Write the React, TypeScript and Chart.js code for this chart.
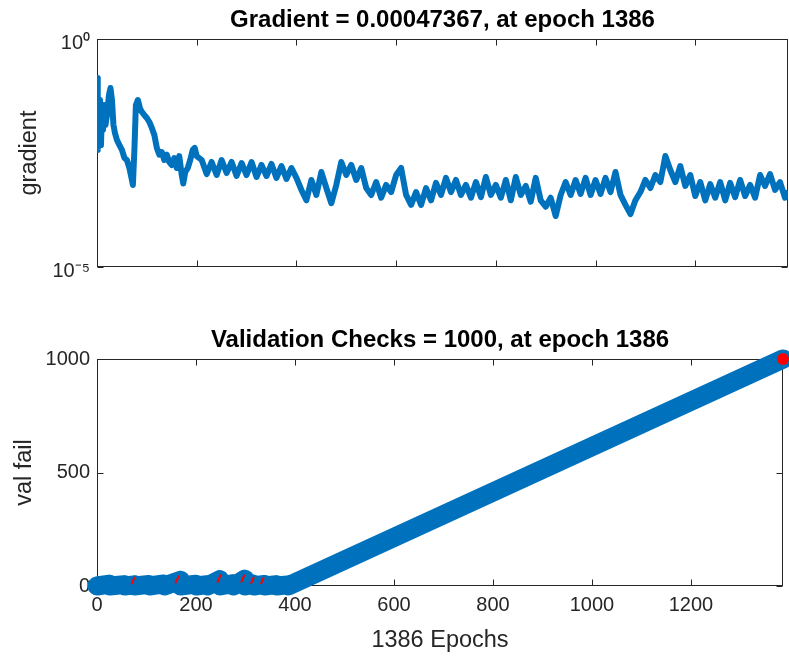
import { useEffect, useRef } from 'react';
import { Chart, registerables } from 'chart.js';

Chart.register(...registerables);

// ---------- data ----------
const xTicks = [0, 200, 400, 600, 800, 1000, 1200];
const gradTicks = [1e-5, 1];
const valTicks = [0, 500, 1000];

const gradTitle = 'Gradient = 0.00047367, at epoch 1386';
const valTitle = 'Validation Checks = 1000, at epoch 1386';
const xLabel = '1386 Epochs';

const gradEpochs = [
  0, 1, 2, 4, 6, 8, 10, 12, 14, 17, 20, 24, 27, 30, 33, 36, 40, 45, 50, 55,
  60, 65, 70, 72, 75, 78, 82, 86, 90, 95, 100, 105, 110, 115, 120, 125, 130, 135, 140, 145,
  150, 155, 160, 165, 170, 173, 177, 182, 187, 192, 196, 200,
  210, 220, 230, 240, 250, 260, 270, 280, 290, 300,
  310, 320, 330, 340, 350, 360, 370, 380, 390, 400,
  410, 420, 430, 440, 450, 460, 470, 480, 490, 500,
  510, 520, 530, 540, 550, 560, 570, 580, 590, 600,
  610, 620, 630, 640, 650, 660, 670, 680, 690, 700,
  710, 720, 730, 740, 750, 760, 770, 780, 790, 800,
  810, 820, 830, 840, 850, 860, 870, 880, 890, 900,
  910, 920, 930, 940, 950, 960, 970, 980, 990, 1000,
  1010, 1020, 1030, 1040, 1050, 1060, 1070, 1080, 1090, 1100,
  1110, 1120, 1130, 1140, 1150, 1160, 1170, 1180, 1190, 1200,
  1210, 1220, 1230, 1240, 1250, 1260, 1270, 1280, 1290, 1300,
  1310, 1320, 1330, 1340, 1350, 1360, 1370, 1380, 1386,
];
const gradValues = [
  0.14, 0.0037, 0.059, 0.0079, 0.046, 0.0047, 0.0307, 0.0101, 0.0357, 0.013, 0.0215, 0.059, 0.084, 0.046, 0.013, 0.0087, 0.0061, 0.0047, 0.0037, 0.00246,
  0.00222, 0.00148, 0.00081, 0.00063, 0.0037, 0.0357, 0.046, 0.0307, 0.0251, 0.0215, 0.0185, 0.0151, 0.0112, 0.0079, 0.0041, 0.0029, 0.0033, 0.00222, 0.0029, 0.002,
  0.00172, 0.00246, 0.00148, 0.0027, 0.00104, 0.00068, 0.00121, 0.00148, 0.00222, 0.0037, 0.0041, 0.0027,
  0.00222, 0.00109, 0.00201, 0.00104, 0.00222, 0.00115, 0.00201, 0.00099, 0.00191, 0.00104,
  0.00201, 0.00094, 0.00173, 0.00099, 0.00182, 0.0009, 0.00164, 0.00085, 0.00148, 0.0009,
  0.00049, 0.00029, 0.00081, 0.00038, 0.00121, 0.00054, 0.00025, 0.00063, 0.00201, 0.00104,
  0.00173, 0.00081, 0.00148, 0.00054, 0.00038, 0.00073, 0.00033, 0.00063, 0.00044, 0.00104,
  0.00148, 0.00038, 0.00023, 0.00044, 0.00023, 0.00054, 0.00029, 0.0007, 0.00038, 0.0009,
  0.00044, 0.00081, 0.00038, 0.00063, 0.00033, 0.00073, 0.00034, 0.00094, 0.00038, 0.00063,
  0.00033, 0.00081, 0.00029, 0.00094, 0.00038, 0.0006, 0.00027, 0.0009, 0.00029, 0.00021,
  0.00033, 0.000131, 0.00038, 0.00073, 0.00038, 0.00081, 0.0004, 0.0009, 0.00038, 0.00081,
  0.0004, 0.0009, 0.00044, 0.00121, 0.00038, 0.00023, 0.000145, 0.00029, 0.00044, 0.00081,
  0.00054, 0.00104, 0.00073, 0.00272, 0.00134, 0.00073, 0.00164, 0.0006, 0.00104, 0.00036,
  0.00073, 0.00029, 0.00066, 0.00033, 0.00073, 0.00029, 0.0007, 0.00034, 0.00081, 0.00036,
  0.00063, 0.00033, 0.00104, 0.0006, 0.00109, 0.00049, 0.00073, 0.00033, 0.00047367,
];

const valEpochs = [0, 25, 26, 55, 56, 75, 76, 105, 106, 135, 136, 168, 169, 200, 201, 222, 223, 248, 249, 275, 276, 298, 299, 316, 317, 338, 339, 362, 363, 385, 386, 1386];
const valFail = [0, 8, 0, 6, 0, 5, 0, 7, 0, 9, 0, 25, 0, 8, 0, 6, 0, 28, 0, 10, 0, 30, 0, 8, 0, 7, 0, 6, 0, 5, 0, 1000];

const redEpochs = [70, 76, 76, 158, 166, 166, 243, 250, 250, 291, 298, 298, 311, 317, 317, 331, 337];
const redFail = [8, 40, null, 12, 45, null, 15, 50, null, 15, 50, null, 10, 40, null, 8, 38];

const finalEpoch = [1386];
const finalFail = [1000];

// ---------- style ----------
const BLUE = '#0072BD';
const RED = '#FF0000';
const AX = '#262626';
const FONT = "'Liberation Sans', Arial, Helvetica, sans-serif";
const TICK_SIZE = 20;
const LABEL_SIZE = 23.5;

const axesPlugin = {
  id: 'matlabAxes',
  beforeDatasetsDraw(chart: any, _args: any, opts: any) {
    const { ctx, chartArea: a, scales } = chart;
    ctx.save();
    ctx.strokeStyle = AX;
    ctx.lineWidth = 1;
    const L = Math.round(a.left) + 0.5;
    const R = Math.round(a.right) - 0.5;
    const T = Math.round(a.top) + 0.5;
    const B = Math.round(a.bottom) - 0.5;
    ctx.strokeRect(L, T, R - L, B - T);
    const tl = 6;
    ctx.beginPath();
    scales.x.ticks.forEach((t: any) => {
      const px = Math.round(scales.x.getPixelForValue(t.value)) + 0.5;
      ctx.moveTo(px, T); ctx.lineTo(px, T + tl);
      ctx.moveTo(px, B); ctx.lineTo(px, B - tl);
    });
    scales.y.ticks.forEach((t: any) => {
      const py = Math.round(scales.y.getPixelForValue(t.value)) + 0.5;
      ctx.moveTo(L, py); ctx.lineTo(L + tl, py);
      ctx.moveTo(R, py); ctx.lineTo(R - tl, py);
    });
    ctx.stroke();
    ctx.fillStyle = '#000';
    ctx.font = `bold 24px ${FONT}`;
    ctx.textAlign = 'center';
    ctx.textBaseline = 'alphabetic';
    ctx.fillText(opts.text, (a.left + a.right) / 2, opts.baseline);
    ctx.restore();
  },
};

export default function App() {
  const c1 = useRef<HTMLCanvasElement>(null);
  const c2 = useRef<HTMLCanvasElement>(null);

  useEffect(() => {
    Chart.defaults.font.family = FONT;
    const gradData = gradEpochs.map((e, i) => ({ x: e, y: gradValues[i] }));
    const valData = valEpochs.map((e, i) => ({ x: e, y: valFail[i] }));
    const redData = redEpochs.map((e, i) => ({ x: e, y: redFail[i] }));
    const finalData = finalEpoch.map((e, i) => ({ x: e, y: finalFail[i] }));

    const xScale = (showLabels: boolean, height: number) => ({
      type: 'linear',
      min: 0,
      max: 1386,
      position: 'bottom',
      afterBuildTicks: (s: any) => { s.ticks = xTicks.map((v) => ({ value: v })); },
      afterFit: (s: any) => { s.height = height; },
      grid: { display: false, drawTicks: false },
      border: { display: false },
      ticks: {
        display: showLabels,
        padding: 7,
        color: AX,
        font: { size: TICK_SIZE },
        callback: (v: any) => String(v),
      },
      title: {
        display: showLabels,
        text: xLabel,
        color: AX,
        font: { size: LABEL_SIZE },
        padding: { top: 0, bottom: 6 },
      },
    });

    const ch1 = new Chart(c1.current as HTMLCanvasElement, {
      type: 'line',
      data: {
        datasets: [
          {
            data: gradData as any,
            borderColor: BLUE,
            backgroundColor: BLUE,
            borderWidth: 6,
            borderJoinStyle: 'round',
            pointRadius: 0,
            tension: 0,
          },
        ],
      },
      options: {
        animation: false,
        responsive: false,
        devicePixelRatio: 1,
        layout: { padding: { top: 39, right: 1, left: 0, bottom: 0 } },
        plugins: {
          legend: { display: false },
          tooltip: { enabled: false },
          matlabAxes: { text: gradTitle, baseline: 27 },
        } as any,
        scales: {
          x: xScale(false, 33) as any,
          y: {
            type: 'logarithmic',
            min: 1e-5,
            max: 1,
            position: 'left',
            afterBuildTicks: (s: any) => { s.ticks = gradTicks.map((v) => ({ value: v })); },
            afterFit: (s: any) => { s.width = 97; },
            grid: { display: false, drawTicks: false },
            border: { display: false },
            ticks: {
              padding: 7,
              labelOffset: 4,
              color: AX,
              font: { size: TICK_SIZE },
              callback: (v: any) => (Number(v) >= 1 ? '10⁰' : '10⁻⁵'),
            },
            title: { display: true, text: 'gradient', color: AX, font: { size: LABEL_SIZE }, padding: { top: 15, bottom: 0 } },
          } as any,
        },
      },
      plugins: [axesPlugin],
    });

    const ch2 = new Chart(c2.current as HTMLCanvasElement, {
      type: 'line',
      data: {
        datasets: [
          {
            data: finalData as any,
            showLine: false,
            pointRadius: 6,
            pointBackgroundColor: RED,
            pointBorderWidth: 0,
            borderColor: RED,
            clip: false as any,
            order: 0,
          },
          {
            data: redData as any,
            borderColor: RED,
            borderWidth: 2,
            pointRadius: 0,
            spanGaps: false,
            order: 1,
          },
          {
            data: valData as any,
            borderColor: BLUE,
            backgroundColor: BLUE,
            borderWidth: 19,
            borderCapStyle: 'round',
            borderJoinStyle: 'round',
            pointRadius: 0,
            clip: false as any,
            order: 2,
          },
        ],
      },
      options: {
        animation: false,
        responsive: false,
        devicePixelRatio: 1,
        layout: { padding: { top: 59, right: 1, left: 0, bottom: 0 } },
        plugins: {
          legend: { display: false },
          tooltip: { enabled: false },
          matlabAxes: { text: valTitle, baseline: 47 },
        } as any,
        scales: {
          x: xScale(true, 75) as any,
          y: {
            type: 'linear',
            min: 0,
            max: 1000,
            position: 'left',
            afterBuildTicks: (s: any) => { s.ticks = valTicks.map((v) => ({ value: v })); },
            afterFit: (s: any) => { s.width = 97; },
            grid: { display: false, drawTicks: false },
            border: { display: false },
            ticks: { padding: 7, color: AX, font: { size: TICK_SIZE }, callback: (v: any) => String(v) },
            title: { display: true, text: 'val fail', color: AX, font: { size: LABEL_SIZE }, padding: { top: 10, bottom: 0 } },
          } as any,
        },
      },
      plugins: [axesPlugin],
    });

    return () => {
      ch1.destroy();
      ch2.destroy();
    };
  }, []);

  return (
    <div style={{ position: 'absolute', left: 0, top: 0, width: 789, height: 661, background: '#fff', overflow: 'hidden' }}>
      <canvas ref={c1} width={789} height={300} style={{ position: 'absolute', left: 0, top: 0, width: 789, height: 300 }} />
      <canvas ref={c2} width={789} height={361} style={{ position: 'absolute', left: 0, top: 300, width: 789, height: 361 }} />
    </div>
  );
}
